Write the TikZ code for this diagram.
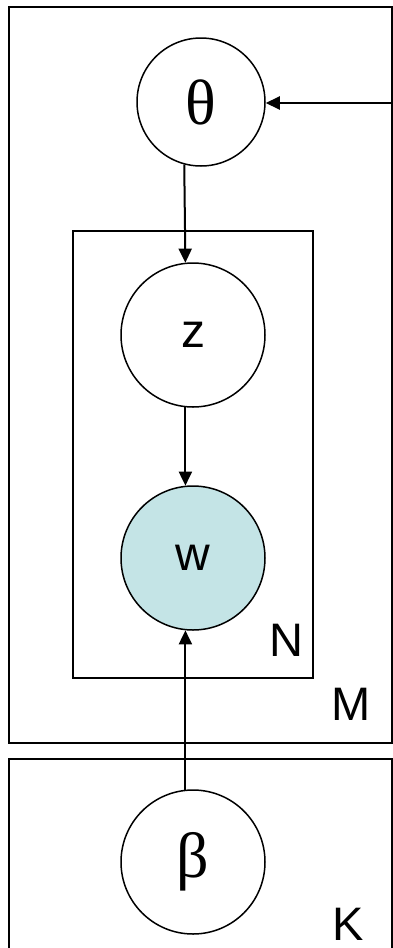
\documentclass[tikz,border=0pt]{standalone}
\usepackage{fontspec}
\setmainfont{Liberation Sans}
\newfontfamily\greekfont{Liberation Serif}
\usetikzlibrary{arrows.meta}
\definecolor{observed}{RGB}{196,228,230}
\begin{document}
\begin{tikzpicture}[x=1pt,y=-1pt,
  plate/.style={draw=black,line width=2pt},
  var/.style={circle,draw=black,line width=1.5pt,fill=white,inner sep=0pt,minimum size=144pt,font=\fontsize{48}{48}\selectfont},
  obs/.style={var,fill=observed},
  param/.style={var,font=\greekfont\fontsize{64}{64}\selectfont},
  platelabel/.style={font=\fontsize{47}{47}\selectfont,inner sep=0pt},
  edge/.style={line width=2pt,-{Triangle[length=14pt,width=13pt]}}]
\useasboundingbox (0,0) rectangle (393,948);
% plates
\draw[plate] (9,7) rectangle (392,743);
\draw[plate] (73,231) rectangle (313,678);
\draw[plate] (9,952) -- (9,759) -- (392,759) -- (392,952);
% variables
\node[param,minimum size=128pt] (theta) at (201,102) {θ};
\node[var] (z) at (193,335) {z};
\node[obs] (w) at (193,558) {w};
\node[param] (beta) at (193,862) {β};
% plate labels
\node[platelabel] (N) at (286,640) {N};
\node[platelabel] (M) at (351,704) {M};
\node[platelabel] (K) at (348,924) {K};
% edges
\coordinate (hyper) at (392,103);
\draw[edge] (hyper) -- (theta.east |- hyper);
\draw[edge] (theta.255) -- (z.96);
\draw[edge] (z.264) -- (w.96);
\draw[edge] (beta.96) -- (w.264);
\end{tikzpicture}
\end{document}
